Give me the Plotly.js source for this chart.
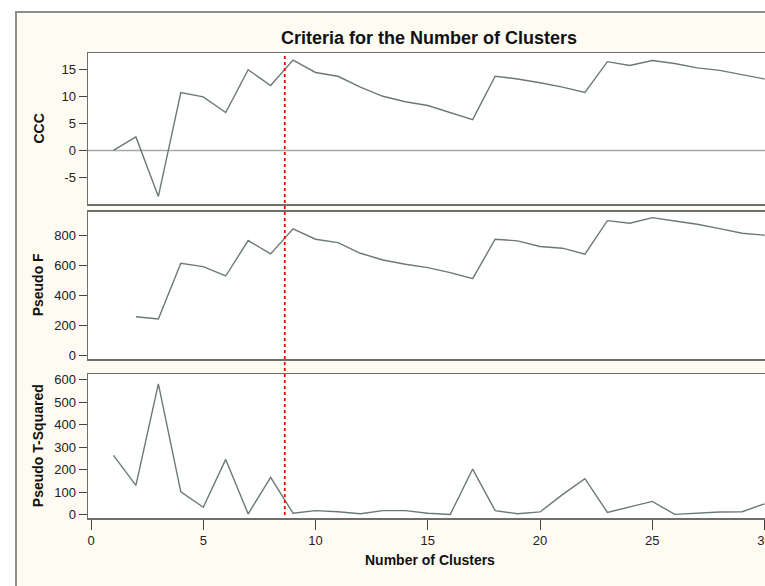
<!DOCTYPE html>
<html>
<head>
<meta charset="utf-8">
<script src="https://cdn.plot.ly/plotly-3.0.1.min.js"></script>
<style>
  html, body { margin: 0; padding: 0; background: #ffffff; overflow: hidden; }
  #chart { width: 765px; height: 586px; }
</style>
</head>
<body>
<div id="chart"></div>
<script>
// ---- data ----
const clusters = [1,2,3,4,5,6,7,8,9,10,11,12,13,14,15,16,17,18,19,20,21,22,23,24,25,26,27,28,29,30];
const ccc = [0, 2.5, -8.5, 10.7, 9.9, 7.0, 14.9, 12.0, 16.7, 14.4, 13.7, 11.7, 10.0, 9.0, 8.3, 7.0, 5.7,
             13.7, 13.2, 12.5, 11.7, 10.7, 16.4, 15.7, 16.6, 16.05, 15.25, 14.8, 14.0, 13.2];
const pseudoF = [null, 258, 243, 615, 593, 530, 767, 678, 845, 776, 753, 682, 637, 609, 586, 553, 512,
                 776, 765, 727, 716, 676, 900, 883, 920, 898, 876, 847, 816, 803];
const pseudoT2 = [264, 130, 582, 101, 33, 246, 3, 166, 6, 18, 13, 4, 18, 18, 6, 1, 203,
                  18, 4, 12, 89, 160, 10, 34, 59, 1, 6, 12, 13, 48];
const refLineX = 8.63;
const xTicks = [0, 5, 10, 15, 20, 25, 30];
const cccTicks = [-5, 0, 5, 10, 15];
const cccTickText = ["-5", "0", "5", "10", "15"];
const fTicks = [0, 200, 400, 600, 800];
const t2Ticks = [0, 100, 200, 300, 400, 500, 600];
const titleText = "Criteria for the Number of Clusters";
const xTitle = "Number of Clusters";
const yTitles = ["CCC", "Pseudo F", "Pseudo T-Squared"];

// ---- styling ----
const FONT = "Arial, 'Liberation Sans', Helvetica, sans-serif";
const lineColor = "#6b7a70";
const frameColor = "#6e6e6e";
const cream = "#fdfbf2";

const W = 765, H = 586;
const M = {l: 88, r: 0, t: 53, b: 68};
const plotH = H - M.t - M.b;
const plotW = W - M.l - M.r;
const py = p => (H - M.b - p) / plotH;   // pixel y -> paper
const px = p => (p - M.l) / plotW;        // pixel x -> paper

const domTop = [py(204), 1];
const domMid = [py(359), py(211.7)];
const domBot = [0, py(374.3)];

const lineStyle = {color: lineColor, width: 1.4};

const traces = [
  {x: clusters, y: ccc, type: 'scatter', mode: 'lines', line: lineStyle, xaxis: 'x3', yaxis: 'y3', hoverinfo: 'skip'},
  {x: clusters, y: pseudoF, type: 'scatter', mode: 'lines', line: lineStyle, xaxis: 'x2', yaxis: 'y2', hoverinfo: 'skip', connectgaps: false},
  {x: clusters, y: pseudoT2, type: 'scatter', mode: 'lines', line: lineStyle, xaxis: 'x', yaxis: 'y', hoverinfo: 'skip'}
];

const xRange = [-0.134, 30.02];
const tickFont = {family: FONT, size: 13, color: "#222"};

function yAxis(domain, range, ticks, anchor, text) {
  return {
    domain: domain, range: range, tickmode: 'array', tickvals: ticks, ticktext: text || ticks.map(String),
    anchor: anchor,
    showgrid: false, zeroline: false, showline: true, linecolor: frameColor, linewidth: 1.5,
    ticks: 'outside', ticklen: 8, tickwidth: 1, tickcolor: '#444',
    tickfont: tickFont, automargin: false, fixedrange: true
  };
}
function xAxis(anchor, showTicks) {
  return {
    range: xRange, anchor: anchor, tickmode: 'array', tickvals: xTicks, ticktext: xTicks.map(String),
    showgrid: false, zeroline: false, showline: true, mirror: true,
    linecolor: frameColor, linewidth: 1.5,
    ticks: showTicks ? 'outside' : '', ticklen: 10, tickwidth: 1, tickcolor: '#444',
    showticklabels: showTicks, ticklabeloverflow: 'allow',
    tickfont: tickFont, automargin: false, fixedrange: true
  };
}

const layout = {
  width: W, height: H,
  margin: M,
  paper_bgcolor: cream,
  plot_bgcolor: "#ffffff",
  showlegend: false,
  font: {family: FONT, color: "#111"},
  title: {
    text: "<b>" + titleText + "</b>",
    font: {family: FONT, size: 18, color: "#111"},
    x: 429 / W, xanchor: 'center', xref: 'container',
    y: 1 - 38 / H, yanchor: 'middle', yref: 'container'
  },
  xaxis: xAxis('y', true),
  xaxis2: Object.assign(xAxis('y2', false), {matches: 'x'}),
  xaxis3: Object.assign(xAxis('y3', false), {matches: 'x'}),
  yaxis: yAxis(domBot, [-15, 625], t2Ticks, 'x'),
  yaxis2: yAxis(domMid, [-25, 960], fTicks, 'x2'),
  yaxis3: yAxis(domTop, [-9.9, 18], cccTicks, 'x3', cccTickText),
  shapes: [
    // white surround outside the graph frame
    {type: 'rect', xref: 'paper', yref: 'paper', x0: px(-10), x1: px(770), y0: py(11), y1: py(-10),
     fillcolor: '#ffffff', line: {width: 0}},
    {type: 'rect', xref: 'paper', yref: 'paper', x0: px(-10), x1: px(15), y0: py(600), y1: py(-10),
     fillcolor: '#ffffff', line: {width: 0}},
    {type: 'line', xref: 'paper', yref: 'paper', x0: px(15), x1: px(766), y0: py(12), y1: py(12),
     line: {color: '#8e8e8e', width: 2}},
    {type: 'line', xref: 'paper', yref: 'paper', x0: px(16), x1: px(16), y0: py(12), y1: py(600),
     line: {color: '#8e8e8e', width: 2}},
    // zero reference line in CCC panel
    {type: 'line', xref: 'x3 domain', yref: 'y3', x0: 0, x1: 1, y0: 0, y1: 0,
     line: {color: '#a8a8a8', width: 1.5}, layer: 'below'},
    // red dotted reference line across panels
    {type: 'line', xref: 'x', yref: 'paper', x0: refLineX, x1: refLineX, y0: py(515), y1: 1.0,
     line: {color: '#ff0000', width: 1.8, dash: 'dot'}}
  ],
  annotations: [
    {text: "<b>" + yTitles[0] + "</b>", xref: 'paper', yref: 'paper', x: px(38), y: (domTop[0] + domTop[1]) / 2,
     textangle: -90, showarrow: false, xanchor: 'center', yanchor: 'middle', font: {family: FONT, size: 14, color: '#111'}},
    {text: "<b>" + yTitles[1] + "</b>", xref: 'paper', yref: 'paper', x: px(38), y: (domMid[0] + domMid[1]) / 2,
     textangle: -90, showarrow: false, xanchor: 'center', yanchor: 'middle', font: {family: FONT, size: 14, color: '#111'}},
    {text: "<b>" + yTitles[2] + "</b>", xref: 'paper', yref: 'paper', x: px(38), y: (domBot[0] + domBot[1]) / 2,
     textangle: -90, showarrow: false, xanchor: 'center', yanchor: 'middle', font: {family: FONT, size: 14, color: '#111'}},
    {text: "<b>" + xTitle + "</b>", xref: 'paper', yref: 'paper', x: px(430), y: py(560),
     showarrow: false, xanchor: 'center', yanchor: 'middle', font: {family: FONT, size: 14, color: '#111'}}
  ]
};

Plotly.newPlot('chart', traces, layout, {displayModeBar: false, staticPlot: true});
</script>
</body>
</html>
